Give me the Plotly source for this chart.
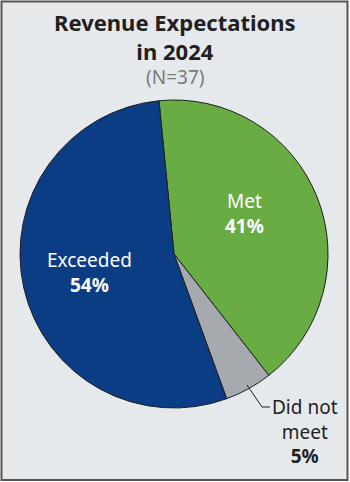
import plotly.graph_objects as go

# Survey results
categories = ["Met", "Did not meet", "Exceeded"]
shares = [41, 5, 54]
slice_colors = ["#6aac44", "#a6a9ad", "#0b3d85"]
title_lines = ["Revenue Expectations", "in 2024"]
sample_note = "(N=37)"

W, H = 350, 482
FONT = "Noto Sans"
INK = "#231f20"


def px(x, y):
    """Convert pixel position (from top-left) to paper coordinates."""
    return x / W, 1 - y / H


fig = go.Figure()

# pie occupies a 308px square centred at (174, 254)
cx, cy, r = 174, 254, 154
x0, y0 = px(cx - r, cy + r)
x1, y1 = px(cx + r, cy - r)

fig.add_trace(go.Pie(
    labels=categories,
    values=shares,
    sort=False,
    direction="clockwise",
    rotation=-5.6,
    marker=dict(colors=slice_colors, line=dict(color="#1e1e1e", width=1)),
    textinfo="none",
    hoverinfo="label+percent",
    showlegend=False,
    domain=dict(x=[x0, x1], y=[y0, y1]),
))

annotations = []

# title block
tx, ty = px(175, 36.5)
annotations.append(dict(x=tx, y=ty, text="<b>" + "<br>".join(title_lines) + "</b>",
                        font=dict(size=22, color=INK, family=FONT)))
tx, ty = px(175, 77)
annotations.append(dict(x=tx, y=ty, text=sample_note,
                        font=dict(size=19, color="#7a7a7a", family=FONT)))

# in-slice labels
for name, val, (lx, ly) in [(categories[0], shares[0], (244, 213)),
                            (categories[2], shares[2], (90, 272))]:
    ax, ay = px(lx, ly)
    annotations.append(dict(
        x=ax, y=ay, text=f"{name}<br><b>{val}%</b>",
        font=dict(size=19, color="white", family=FONT)))

# outside label with leader line
ax, ay = px(305, 431)
annotations.append(dict(
    x=ax, y=ay, text=f"Did not<br>meet<br><b>{shares[1]}%</b>",
    font=dict(size=19, color=INK, family=FONT)))

for a in annotations:
    a.update(xref="paper", yref="paper", showarrow=False,
             xanchor="center", yanchor="middle")

shapes = [
    # panel background and frame
    dict(type="rect", xref="paper", yref="paper", layer="below",
         x0=1.5 / W, x1=347.5 / W, y0=1 - 480 / H, y1=1 - 1.5 / H,
         fillcolor="#e5e9ec", line=dict(color="#555555", width=2)),
    # leader line for the small slice
    dict(type="path", xref="paper", yref="paper",
         path="M {} {} L {} {} L {} {}".format(*px(247, 385), *px(262, 407), *px(270, 407)),
         line=dict(color=INK, width=1)),
]

fig.update_layout(
    width=W, height=H,
    margin=dict(l=0, r=0, t=0, b=0),
    paper_bgcolor="white",
    plot_bgcolor="white",
    annotations=annotations,
    shapes=shapes,
)

fig.write_html("out.html")
